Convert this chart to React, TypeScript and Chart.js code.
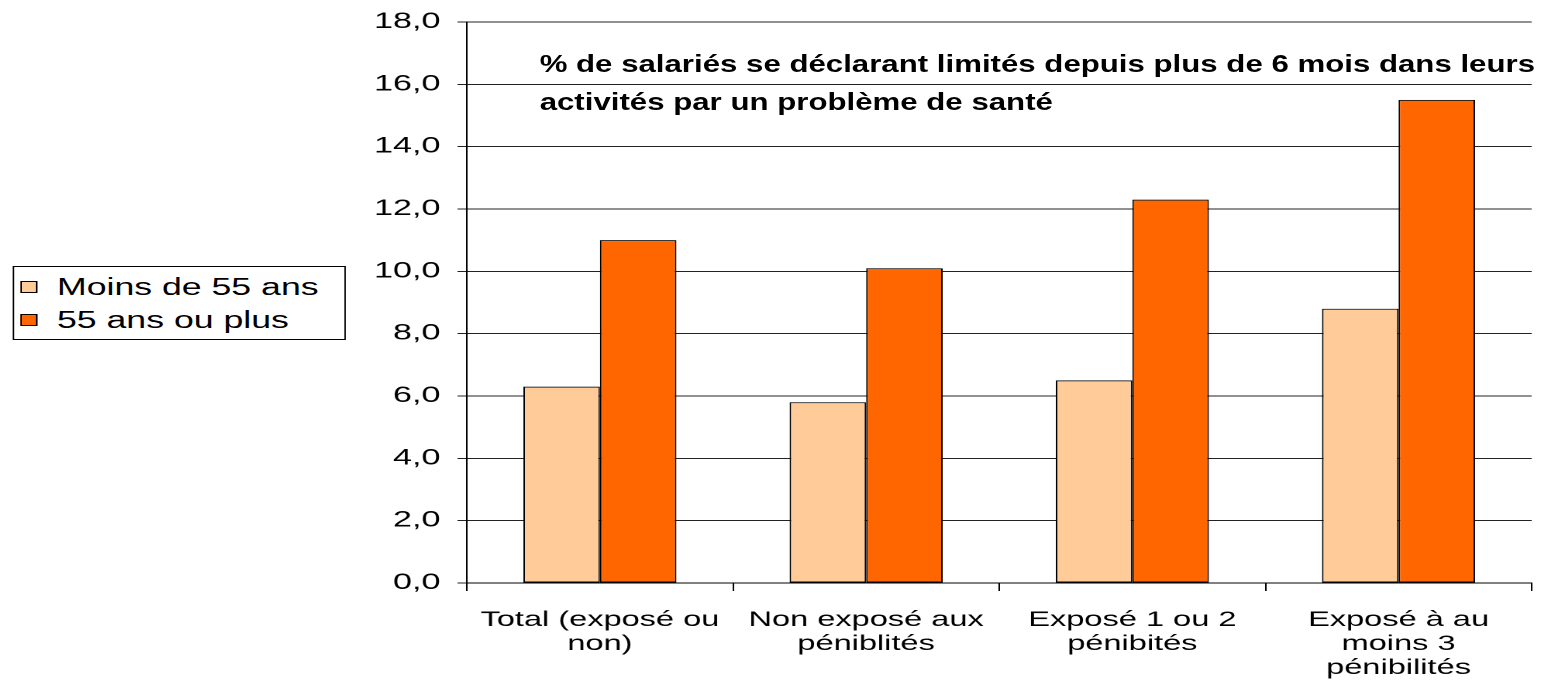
import React, { useEffect, useRef } from "react";
import { Chart, registerables } from "chart.js";

Chart.register(...registerables);

const categories: string[][] = [
  ["Total (exposé ou", "non)"],
  ["Non exposé aux", "péniblités"],
  ["Exposé 1 ou 2", "pénibités"],
  ["Exposé à au", "moins 3", "pénibilités"],
];
const seriesNames = ["Moins de 55 ans", "55 ans ou plus"];
const moins55 = [6.3, 5.8, 6.5, 8.8];
const plus55 = [11.0, 10.1, 12.3, 15.5];
const colors = ["#FFCC99", "#FF6600"];
const titleLines = [
  "% de salariés se déclarant limités depuis plus de 6 mois dans leurs",
  "activités par un problème de santé",
];
const yMin = 0;
const yMax = 18;
const yStep = 2;

const FONT = 'Arial, "Liberation Sans", sans-serif';
const STRETCH = 1.55;
const TITLE_STRETCH = 1.3;
const W = 1000;
const H = 675;

export default function App() {
  const ref = useRef<HTMLCanvasElement | null>(null);

  useEffect(() => {
    if (!ref.current) return;
    const chart = new Chart(ref.current, {
      type: "bar",
      data: {
        labels: categories,
        datasets: [
          {
            label: seriesNames[0],
            data: moins55,
            backgroundColor: colors[0],
            borderColor: "#000",
            borderWidth: 1,
            borderSkipped: false,
            barPercentage: 1,
            categoryPercentage: 0.575,
          },
          {
            label: seriesNames[1],
            data: plus55,
            backgroundColor: colors[1],
            borderColor: "#000",
            borderWidth: 1,
            borderSkipped: false,
            barPercentage: 1,
            categoryPercentage: 0.575,
          },
        ],
      },
      options: {
        responsive: false,
        animation: false,
        devicePixelRatio: 2,
        layout: { padding: { top: 14, right: 17, left: 0, bottom: 0 } },
        plugins: {
          legend: { display: false },
          title: { display: false },
          tooltip: { enabled: false },
        },
        scales: {
          x: {
            grid: {
              display: true,
              drawOnChartArea: false,
              drawTicks: true,
              tickLength: 8,
              color: "#000",
              offset: true,
            },
            border: { display: true, color: "#000", width: 1 },
            ticks: {
              color: "#000",
              font: { family: FONT, size: 21, lineHeight: 24 / 21 },
              padding: 17,
              maxRotation: 0,
              autoSkip: false,
            },
            afterFit: (scale: any) => {
              scale.height = 100;
            },
          },
          y: {
            min: yMin,
            max: yMax,
            grid: {
              color: "#222",
              lineWidth: 1,
              tickLength: 6,
              drawTicks: true,
            },
            border: { display: true, color: "#000", width: 1 },
            ticks: {
              stepSize: yStep,
              color: "#000",
              padding: 11,
              font: { family: FONT, size: 22 },
              callback: (v: any) => Number(v).toFixed(1).replace(".", ","),
            },
            afterFit: (scale: any) => {
              scale.width = 296;
              scale.paddingTop = 0;
              scale.paddingBottom = 0;
            },
          },
        },
      },
    });
    return () => chart.destroy();
  }, []);

  return (
    <div
      style={{
        position: "fixed",
        left: 8,
        top: 8,
        width: W,
        height: H,
        transform: `scaleX(${STRETCH})`,
        transformOrigin: "0 0",
        background: "#fff",
      }}
    >
      <canvas
        ref={ref}
        width={W}
        height={H}
        style={{ display: "block", width: W, height: H }}
      />
      <div
        style={{
          position: "absolute",
          left: 343,
          top: 37,
          fontFamily: FONT,
          fontWeight: "bold",
          fontSize: 24,
          lineHeight: "38px",
          color: "#000",
          whiteSpace: "nowrap",
          transform: `scaleX(${TITLE_STRETCH / STRETCH})`,
          transformOrigin: "0 0",
        }}
      >
        {titleLines.map((t, i) => (
          <div key={i}>{t}</div>
        ))}
      </div>
      <div
        style={{
          position: "absolute",
          left: 2.6,
          top: 258,
          width: 215,
          height: 74,
          boxSizing: "border-box",
          border: "1px solid #000",
          background: "#fff",
          paddingTop: 3.5,
          fontFamily: FONT,
          fontSize: 23,
          color: "#000",
        }}
      >
        {seriesNames.map((n, i) => (
          <div
            key={i}
            style={{
              position: "relative",
              height: 33,
              lineHeight: "33px",
              paddingLeft: 28,
              whiteSpace: "nowrap",
            }}
          >
            <span
              style={{
                position: "absolute",
                left: 4,
                top: 10.5,
                width: 11,
                height: 12,
                boxSizing: "border-box",
                border: "1px solid #000",
                background: colors[i],
              }}
            />
            {n}
          </div>
        ))}
      </div>
    </div>
  );
}
